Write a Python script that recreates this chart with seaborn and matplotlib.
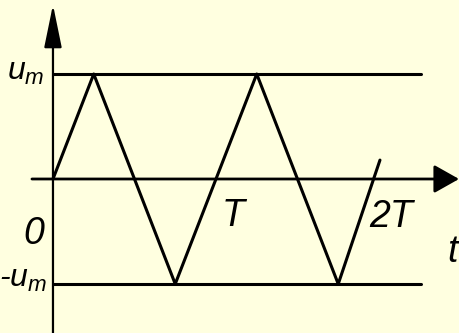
import matplotlib
matplotlib.use("Agg")
import matplotlib.pyplot as plt
import seaborn as sns
import pandas as pd

# triangle wave, t in units of T, u in units of u_m
wave_t = [0.0, 0.25, 0.75, 1.25, 1.75, 2.006]
wave_u = [0.0, 1.0, -1.0, 1.0, -1.0, 0.18]

# the +u_m / -u_m reference levels
level_u = [1.0, -1.0]
level_span = [0.0, 2.26]

BG = "#FFFFE0"
FONT = ["Liberation Sans", "DejaVu Sans"]

sns.set_theme(style="white")
plt.rcParams["font.family"] = FONT
plt.rcParams["mathtext.fontset"] = "custom"
plt.rcParams["mathtext.it"] = "Liberation Sans:italic"
plt.rcParams["mathtext.rm"] = "Liberation Sans"

fig = plt.figure(figsize=(4.6, 3.33), dpi=100, facecolor=BG)
ax = fig.add_axes([0, 0, 1, 1], facecolor=BG)
ax.set_xlim(-0.325, 2.497)
ax.set_ylim(-1.467, 1.705)
ax.axis("off")

# reference levels
for u in level_u:
    lv = pd.DataFrame({"t": level_span, "u": [u, u]})
    sns.lineplot(data=lv, x="t", y="u", ax=ax, color="black", lw=2.2,
                 estimator=None, sort=False)

# wave
df = pd.DataFrame({"t": wave_t, "u": wave_u})
sns.lineplot(data=df, x="t", y="u", ax=ax, color="black", lw=2.2,
             estimator=None, sort=False)

# axes with arrows
ax.annotate("", xy=(2.491, 0), xytext=(-0.129, 0),
            arrowprops=dict(arrowstyle="-|>,head_length=1.1,head_width=0.62",
                            mutation_scale=14, lw=2.0, color="black",
                            shrinkA=0, shrinkB=0))
ax.annotate("", xy=(0, 1.66), xytext=(0, -1.467),
            arrowprops=dict(arrowstyle="-|>,head_length=1.9,head_width=0.39",
                            mutation_scale=14, lw=1.6, color="black",
                            shrinkA=0, shrinkB=0))

lab = dict(fontsize=27, style="italic", color="black", va="baseline")
sub = dict(fontsize=23, style="italic", color="black", va="baseline")

ax.text(-0.05, 0.943, r"$u_m$", ha="right", **sub)
ax.text(-0.035, -1.029, r"-$u_m$", ha="right", **sub)
ax.text(-0.055, -0.619, "0", ha="right", **lab)
ax.text(1.037, -0.448, "T", ha="left", **lab)
ax.text(1.939, -0.457, "2T", ha="left", **lab)
ax.text(2.417, -0.79, "t", ha="left", **lab)

fig.savefig("out.png", dpi=100, facecolor=BG)
